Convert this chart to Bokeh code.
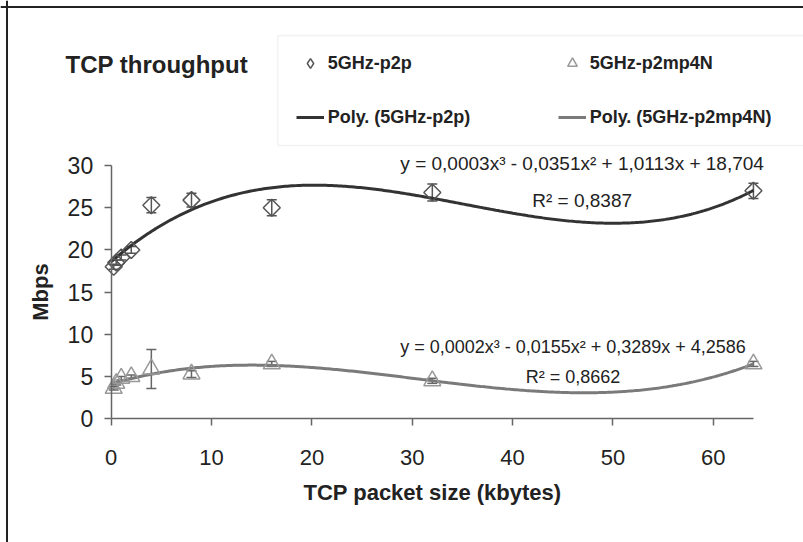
import numpy as np
from bokeh.plotting import figure
from bokeh.models import (ColumnDataSource, Whisker, TeeHead, Legend, LegendItem,
                          Label, FixedTicker, Span, BoxAnnotation)
from bokeh.embed import file_html
from bokeh.resources import INLINE

# ---- data ----
packet_kb = [0.25, 0.5, 1, 2, 4, 8, 16, 32, 64]
p2p_mbps = [18.0, 18.5, 19.1, 20.0, 25.3, 25.9, 25.0, 26.8, 27.0]
p2p_err = [0.3, 0.3, 0.3, 0.4, 0.9, 0.8, 0.95, 1.0, 0.9]
p2mp_mbps = [3.6, 4.2, 4.8, 5.0, 5.9, 5.3, 6.5, 4.5, 6.5]
p2mp_err = [0.2, 0.2, 0.2, 0.2, 2.3, 0.4, 0.3, 0.3, 0.3]
x_ticks = [0, 10, 20, 30, 40, 50, 60]
y_ticks = [0, 5, 10, 15, 20, 25, 30]
eq_p2p = "y = 0,0003x³ - 0,0351x² + 1,0113x + 18,704"
r2_p2p = "R² = 0,8387"
eq_p2mp = "y = 0,0002x³ - 0,0155x² + 0,3289x + 4,2586"
r2_p2mp = "R² = 0,8662"

FONT = "Liberation Sans"
DARK = "#333333"
MID = "#7a7a7a"

W, H = 803, 542
# frame covers the whole canvas; axes are pinned at x=0 / y=0
XPX, YPX = 10.035, 8.443
X_AT0, Y_AT0 = 110.7, 418.3          # canvas pixel of x=0 / y=0


def dx(px):
    return (px - X_AT0) / XPX


def dy(py):
    return (Y_AT0 - py) / YPX


p = figure(width=W, height=H,
           x_range=(dx(0), dx(W)), y_range=(dy(H), dy(0)),
           output_backend="svg", toolbar_location=None,
           min_border_left=0, min_border_right=0,
           min_border_top=0, min_border_bottom=0)
p.outline_line_color = None
p.grid.visible = False
p.background_fill_color = "white"
p.border_fill_color = "white"

for ax in (p.xaxis[0], p.yaxis[0]):
    ax.fixed_location = 0
    ax.axis_line_color = "#666666"
    ax.axis_line_width = 1.5
    ax.major_tick_line_color = "#666666"
    ax.major_tick_line_width = 1.5
    ax.major_tick_out = 7
    ax.major_tick_in = 0
    ax.minor_tick_line_color = None
    ax.major_label_text_font = FONT
    ax.major_label_text_color = "#222222"
    ax.axis_label_text_font = FONT
    ax.axis_label_text_font_style = "bold"
    ax.axis_label_text_color = "#222222"
    ax.axis_label_text_font_size = "22px"

p.xaxis.bounds = (0, 64)
p.yaxis.bounds = (0, 30)
p.xaxis.ticker = FixedTicker(ticks=x_ticks)
p.yaxis.ticker = FixedTicker(ticks=y_ticks)
p.xaxis.major_label_text_font_size = "22px"
p.yaxis.major_label_text_font_size = "23px"
p.xaxis.axis_label = "TCP packet size (kbytes)"
p.yaxis.axis_label = "Mbps"
p.xaxis.major_label_standoff = 24
p.yaxis.major_label_standoff = 11
p.xaxis.axis_label_standoff = 12
p.yaxis.axis_label_standoff = 12

# image border (top and left)
p.add_layout(Span(location=dx(6.5), dimension="height", line_color="#222222", line_width=2))
p.add_layout(Span(location=dy(6.5), dimension="width", line_color="#222222", line_width=2))

# legend box (left and bottom edges visible, faint top)
p.add_layout(BoxAnnotation(left=dx(277.3), right=dx(812), top=dy(35), bottom=dy(145),
                           fill_color="white", fill_alpha=1,
                           line_color="#d4d4d4", line_width=1.5))

# ---- trend lines (cubic fits of the data) ----
xs = np.linspace(0, 64, 300)
c1 = np.polyfit(packet_kb, p2p_mbps, 3)
c2 = np.polyfit(packet_kb, p2mp_mbps, 3)
l1 = p.line(xs, np.polyval(c1, xs), line_color=DARK, line_width=3)
l2 = p.line(xs, np.polyval(c2, xs), line_color=MID, line_width=3)

# ---- points with error bars ----
s1 = ColumnDataSource(dict(x=packet_kb, y=p2p_mbps,
                           lo=np.array(p2p_mbps) - np.array(p2p_err),
                           hi=np.array(p2p_mbps) + np.array(p2p_err)))
s2 = ColumnDataSource(dict(x=packet_kb, y=p2mp_mbps,
                           lo=np.array(p2mp_mbps) - np.array(p2mp_err),
                           hi=np.array(p2mp_mbps) + np.array(p2mp_err)))
for s, col in ((s1, "#555555"), (s2, "#666666")):
    w = Whisker(base="x", upper="hi", lower="lo", source=s, line_color=col, line_width=1.5,
                upper_head=TeeHead(size=10, line_color=col, line_width=1.5),
                lower_head=TeeHead(size=10, line_color=col, line_width=1.5))
    p.add_layout(w)

p.scatter("x", "y", source=s1, marker="square", angle=np.pi / 4, size=12,
          fill_color=None, line_color="#555555", line_width=1.5)
p.scatter("x", "y", source=s2, marker="triangle", size=17, fill_color=None,
          line_color="#999999", line_width=1.5)

# legend-only glyphs (a NaN point draws nothing in the plot; smaller legend markers)
d1 = p.scatter(x=[np.nan], y=[np.nan], marker="diamond", size=14,
               fill_color=None, line_color="#555555", line_width=1.5)
d2 = p.scatter(x=[np.nan], y=[np.nan], marker="triangle", size=11,
               fill_color=None, line_color="#999999", line_width=1.5)

# ---- equations ----
def lab(x, y, t, fs):
    p.add_layout(Label(x=x, y=y, text=t, text_font=FONT, text_font_size=fs,
                       text_color="#222222", text_align="center", text_baseline="middle"))

lab(46.93, 30.2, eq_p2p, "19px")
lab(46.93, 25.85, r2_p2p, "19px")
lab(46.02, 8.48, eq_p2mp, "18px")
lab(46.02, 4.93, r2_p2mp, "18px")

# ---- title ----
p.add_layout(Label(x=dx(65), y=dy(64), text="TCP throughput", text_font=FONT,
                   text_font_size="24px", text_font_style="bold", text_color="#222222",
                   text_baseline="middle"))

# ---- legend ----
legend = Legend(items=[LegendItem(label="5GHz-p2p", renderers=[d1]),
                       LegendItem(label="5GHz-p2mp4N", renderers=[d2]),
                       LegendItem(label="Poly. (5GHz-p2p)", renderers=[l1]),
                       LegendItem(label="Poly. (5GHz-p2mp4N)", renderers=[l2])],
                orientation="horizontal", nrows=2,
                location=(295.7, H - 145 + 16),
                label_text_font=FONT, label_text_font_size="18px",
                label_text_font_style="bold", label_text_color="#222222",
                border_line_color=None,
                background_fill_alpha=0,
                padding=16, spacing=30, glyph_width=28, glyph_height=24,
                label_standoff=4, label_height=24, label_width=200)
p.add_layout(legend)

open("out.html", "w").write(file_html(p, INLINE))
